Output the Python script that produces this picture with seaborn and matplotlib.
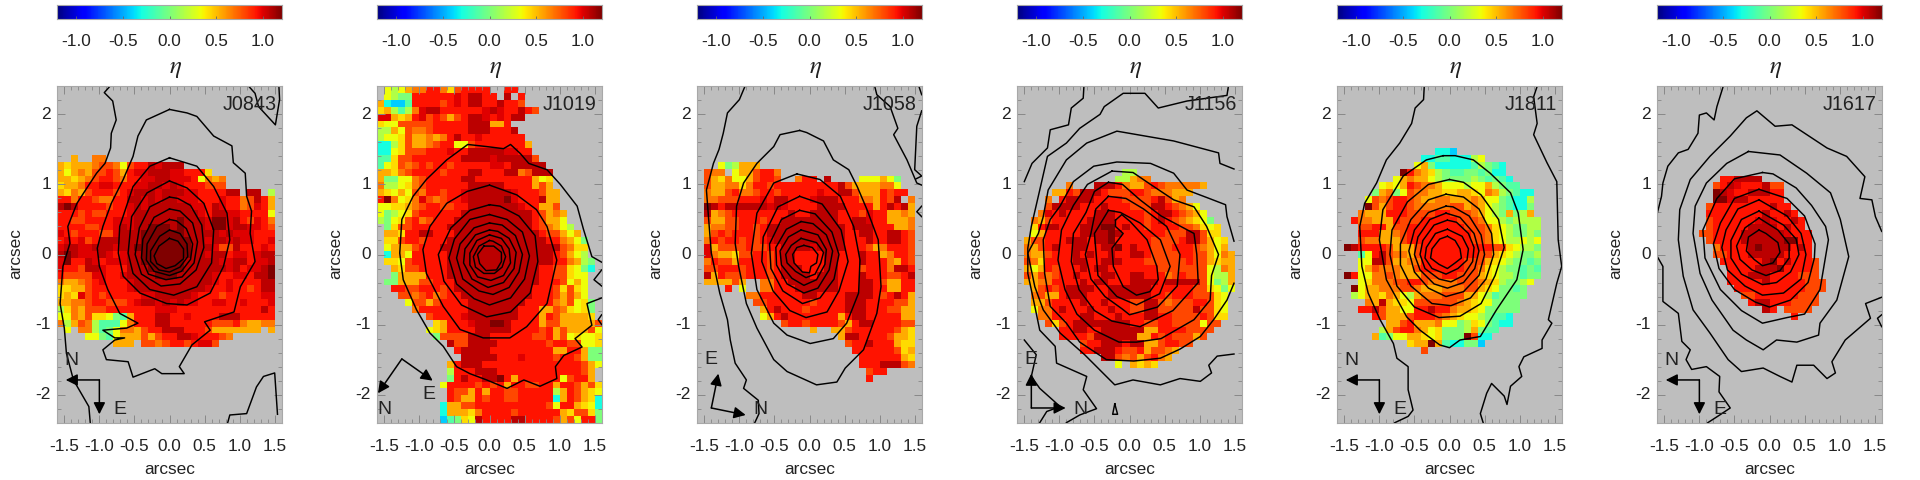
import numpy as np
import pandas as pd
import seaborn as sns
import matplotlib.pyplot as plt

plt.rcParams['font.family'] = ['Liberation Sans', 'DejaVu Sans']
plt.rcParams['mathtext.fontset'] = 'stix'

# eta value for each letter used in the cell rows below, '.' = no data
ETA_LEVELS = {'a': -0.42, 'b': -0.3, 'c': -0.12, 'd': 0.0, 'e': 0.15, 'f': 0.33, 'g': 0.43,
              'h': 0.55, 'i': 0.68, 'j': 0.8, 'k': 0.93, 'l': 1.0, 'm': 1.07, 'n': 1.2}

N_ROWS = 49
N_COLS = 32

# ---- J0843 ----
J0843_FIRST_ROW = 10
J0843_CELLS = [
    "..h..ii",
    "hghhhijjifjkkmlmmm",
    "hfhihjjkjhkllmmmllkkkg",
    "hhghijkkjikkllmmlllkfihi",
    "ghhikkllkkkllmmlmlkkkjjj",
    "hgihjkkkjklmmmlmmmllkkkkmm.mm.e",
    "kkikkjiikkmmlmlmmlllkkklkkijmkh",
    "mnmkkkkjkklmlmmmmmmllkmlkkijlkh",
    "kkkjkjjkkklmmmmmmmmmlkmmllkkkkf",
    "kkjjkkkklllmmmmmmnmmmlnnlmkjlki",
    "kkkkjjkklmlmmnnnmnmmmlnnlmmllkj",
    "lkjkkkjjlmmmnnnnnnmmmmmlmlllkkk",
    "klkljkmmmmmmnnnnnnnmmlmmlmllkkl",
    "lmmllmmmlmmnnnnnnnnmmmljjmkkklk",
    "mnmlllmlklmmnnnnnnnmmlmmkllklmm",
    "lnkkmlklllmmnnnnnnmmmmmllmmkllm",
    "lkkjmmlkkkmmmnnnnnmmmmmmlmkllmn",
    "kjjjjllkklmmmmnnnmmmmmlkkllkmmn",
    "ihhijklkkklmmmmmmmmmmmlklkkkkmm",
    "gghhjkkkkklmmmmmmmmmmlkklkkjkmm",
    "ghgljkjkkkkkllmmmmmlkkkjkkkkkll",
    "hhiijkkjjjklmmlmlmllkkllkklkkkl",
    "egihjjjkkkkkkklllkkkkkkkkkkkkmk",
    "ffihjggfdchkkkmmkklkkkkmmmkkkkk",
    "iehjiecccfikkkmmkkkkkkjjjkihhii",
    ".f.iiecdfiihjkkmmmkkkjhhhhhhh.h",
    "....ffdcfhhhjhjkkmmlkkkji",
    "........hhh.jjijkkjkllj",
]
J0843_CONTOURS = [
    [(-.85, 2.4), (-.93, 2.31), (-.81, 2.19), (-.76, 1.92), (-.83, 1.73), (-.84, 1.52), (-.92, 1.3), (-1.04, 1.16),
     (-1.21, .9), (-1.32, .73), (-1.45, .4), (-1.42, .16), (-1.52, -.17), (-1.56, -.7), (-1.5, -1.05), (-1.47, -1.41),
     (-1.37, -1.79), (-1.15, -2.17), (-1.13, -2.4)],
    [(0, 2.07), (-.33, 1.92), (-.45, 1.69), (-.52, 1.4), (-.66, 1.07), (-.83, .73), (-.95, .4), (-1.03, .09), (-1.0, -.17),
     (-.88, -.5), (-.71, -.84), (-.45, -.98), (-.61, -1.05), (-.95, -1.08), (-.78, -1.19), (-.64, -1.19), (-.78, -1.22),
     (-.95, -1.36), (-.9, -1.5), (-.59, -1.53), (-.52, -1.75), (-.21, -1.63), (-.11, -1.7), (.21, -1.7), (.14, -1.6),
     (.32, -1.29), (.58, -1.08), (.5, -.96), (.92, -.82), (1.01, -.46), (1.22, -.1), (1.15, .3), (1.17, .62), (1.1, .83),
     (1.08, 1.16), (.91, 1.31), (.89, 1.55), (.63, 1.69), (.39, 1.97), (.25, 2.02), (0, 2.07)],
    [(0, 1.38), (-.28, 1.26), (-.52, .97), (-.71, .4), (-.73, .02), (-.66, -.31), (-.42, -.55), (-.04, -.7), (.25, -.72),
     (.58, -.55), (.77, -.17), (.86, .21), (.82, .59), (.63, .97), (.39, 1.26), (0, 1.38)],
    [(0, 1.05), (-.32, .88), (-.54, .54), (-.59, .02), (-.52, -.27), (-.28, -.5), (.06, -.58), (.39, -.46), (.6, -.12),
     (.63, .35), (.49, .73), (.25, .95), (0, 1.05)],
    [(0, .82), (-.28, .68), (-.43, .38), (-.49, 0), (-.4, -.28), (-.12, -.45), (.15, -.42), (.38, -.22), (.49, .1),
     (.46, .42), (.3, .7), (.12, .8), (0, .82)],
    [(0, .65), (-.22, .53), (-.38, .22), (-.4, -.05), (-.3, -.28), (-.05, -.36), (.18, -.32), (.35, -.12), (.4, .18),
     (.33, .45), (.15, .62), (0, .65)],
    [(0, .5), (-.18, .4), (-.32, .15), (-.33, -.08), (-.22, -.24), (0, -.3), (.17, -.24), (.3, -.07), (.33, .15),
     (.24, .37), (.1, .48), (0, .5)],
    [(0, .35), (-.14, .26), (-.27, .05), (-.27, -.1), (-.15, -.22), (0, -.25), (.15, -.18), (.26, -.03), (.25, .15),
     (.15, .3), (0, .35)],
    [(0, .23), (-.15, .12), (-.22, -.02), (-.18, -.13), (-.05, -.2), (.08, -.16), (.2, -.06), (.2, .08), (.12, .19), (0, .23)],
    [(.83, -2.4), (.86, -2.29), (1.1, -2.27), (1.24, -1.89), (1.34, -1.74), (1.5, -1.69), (1.54, -2.28)],
    [(1.13, 2.4), (1.22, 2.3), (1.27, 2.11), (1.51, 1.85), (1.57, 2.21), (1.56, 2.4)],
]

# ---- J1019 ----
J1019_FIRST_ROW = 0
J1019_CELLS = [
    ".fefhiikkigjkkkk..kk",
    ".feddkkkkkklkmmkk.m.k",
    "hbaackkkkjklkmmkkmkkj",
    "gheceilmmkkkkkklmlkkmkj",
    "llhghkljkjhjkmmlklkmm",
    "gffjjjjjkkkkkmmmhhk",
    "eehfjiijkkkkkmmmkkkm",
    "effgjhhihikmkklkkkkkk",
    "bbegjhhijkkffjkkkkkkkh",
    "bbfgjjjkkklkkmmmmmllkk",
    "ccgjjkkkkkkkmmmmlmmmmmj",
    "cfgjijkjkkjkkkkkllkmmmmm",
    "hhgijkkkkjkkkmmkkkmmijmmm",
    "hddffijkkkkkmmkkkkkkkkhfg",
    "ieefgijkkkkkkmmmmmkkkkhjh",
    "hgfhfjikkjkklmmmmmmlkkkjhh",
    "knifgiljijkklmmmmmnlkkkmhh",
    "ffgghijkkjjkkmmmmmmmlkkhhj",
    "fdefgjkkkkkkmmmmmmmmmmkjhih",
    "edfgjkijkkkmmmmmmmmmmmkjhhf",
    ".dgjjkkkkkmmmmmmmmmmmmkjihfe",
    ".hhgkkmmkkkmmmmmmmmmmmmkjjhfh",
    ".ggjkkjkkkmmmmmmmmmmmmmmkkihfd",
    ".fhhhjkkkmmmmmmmmmmmmmmmmmjigg",
    ".bhhfkkkkkmmmmmmmmmmmmmmmkjhfe",
    ".ggfjkkkkkmmmmmmmmmmmmmmmkkihed",
    "..hgjjkkkkmmmmmmmmmmmmmkkjjgfdb",
    "..dhhhhkkkmmmmmmmmmmmmmkkjjgff",
    ".ddhhhjjkkkmmmmmmmmmmmmkkkjfhf",
    "..kkjjkkkjkmmmmmmmmmmmkkkjgjgf",
    "...jjijkijkkmmmmmmmmmmkkkjhjhf",
    "....fjjhjkkkkmmmmmmmmkkkkihjfgd",
    ".....ikkkkkkkmmmmmmmkkkhhjigfgd",
    ".......jkkkklmmmmmmmkkkhkjhhhhg",
    "........ghkkklmmnnmkkkkhjjhhhhhj",
    ".......fghkkkkmmmmmkkkkjkhjhhhjf",
    "........djjjjmmmkkkkkkjjkhjfgffg",
    "..........mjjmmmmkkkkkkkjkkjjffg",
    "...........kmmmmkkkkkkkkkhhkkhdd",
    "............mmmmmkkklkkkkjkkjhdd",
    "..........hkmmmkkkkkkkkkkkkkkjhf",
    "..........ekkkmmmkkkkkkkkkkkkjh.",
    "..........dkmkkmmnkhkkkkkkfjkkh.",
    ".........fkkkkjkjkhkkjjkkhkkjhjg",
    "..........kjjhkhkkjjkkkkkehkjhgf",
    "..........kjhhkjkkjjkkkkkbhkjhgb",
    ".........bhhjjkkkkkkkkkkjfkkhgfb",
    ".........bhhhgikkkkjkkkkkkhgjjgd",
    ".........acdgfmkkkkmmkkkkjhjfkkd",
]
J1019_CONTOURS = [
    [(1.6, -.11), (1.46, -.03), (1.34, .36), (1.25, .69), (1.01, 1.0), (.82, 1.21), (.56, 1.3), (.44, 1.44), (.3, 1.57),
     (.2, 1.51), (-.04, 1.54), (-.31, 1.57), (-.61, 1.35), (-.9, 1.07), (-1.09, .83), (-1.25, .5), (-1.28, .02), (-1.23, -.36),
     (-1.04, -.79), (-.85, -1.12), (-.66, -1.31), (-.47, -1.6), (-.28, -1.7), (-.04, -1.79), (.25, -1.91), (.49, -1.79),
     (.72, -1.88), (.96, -1.77), (.94, -1.6), (1.06, -1.44), (1.32, -1.32), (1.22, -1.2), (1.46, -1.01), (1.39, -.7), (1.6, -.62)],
    [(1.6, -.22), (1.49, -.36), (1.6, -.45)],
    [(1.6, -.86), (1.55, -.93), (1.6, -1.0)],
    [(0, .99), (-.32, .9), (-.61, .73), (-.85, .4), (-.95, .07), (-.9, -.27), (-.66, -.74), (-.42, -1.07), (-.09, -1.19),
     (.29, -1.19), (.53, -1.03), (.82, -.7), (.96, -.08), (.82, .4), (.67, .64), (.39, .85), (0, .99)],
    [(0, .71), (-.28, .63), (-.55, .38), (-.73, 0), (-.65, -.38), (-.4, -.72), (-.04, -.89), (.3, -.82), (.58, -.55),
     (.69, -.1), (.65, .27), (.42, .55), (.15, .69), (0, .71)],
    [(0, .57), (-.28, .5), (-.5, .22), (-.58, -.05), (-.47, -.42), (-.22, -.63), (0, -.72), (.3, -.62), (.5, -.35),
     (.57, -.02), (.47, .32), (.25, .5), (0, .57)],
    [(0, .45), (-.22, .38), (-.42, .15), (-.47, -.05), (-.38, -.35), (-.15, -.52), (.05, -.57), (.28, -.47), (.42, -.25),
     (.47, 0), (.37, .27), (.18, .42), (0, .45)],
    [(0, .35), (-.2, .28), (-.35, .08), (-.37, -.12), (-.25, -.35), (-.02, -.47), (.2, -.4), (.35, -.2), (.38, .03),
     (.28, .23), (.12, .33), (0, .35)],
    [(0, .28), (-.18, .2), (-.28, .02), (-.28, -.15), (-.17, -.32), (.02, -.37), (.2, -.3), (.3, -.12), (.28, .08),
     (.17, .23), (0, .28)],
    [(0, .2), (-.15, .12), (-.23, -.03), (-.2, -.18), (-.08, -.27), (.07, -.27), (.18, -.18), (.23, -.03), (.17, .12),
     (.05, .19), (0, .2)],
    [(-.08, .12), (.06, .12), (.17, .03), (.17, -.1), (.1, -.22), (-.05, -.23), (-.14, -.13), (-.17, 0), (-.08, .12)],
]

# ---- J1058 ----
J1058_FIRST_ROW = 11
J1058_CELLS = [
    "...fdehhh",
    ".jii.fhhjkki",
    ".jhgiffhjkkj..ikk.m....fffhfd",
    ".jhhiigikkjkkkkkkkkkmjhhhhiif",
    ".ihhjkiijkkjkkkkklkkmmjhhhkjkk",
    ".iijjjkkklkmmkkklmmmkkkiihkjm.i",
    ".nmkmmmmmmlmlkkkkmmmmkkkkhkmkmh",
    ".mhijkkkkkkkkmkkmmmmkkkjlkkhhih",
    ".jhhjjkkkjkkmmmmmmmmkkmmlkkhhhi",
    ".hiijjkkjkmmmmmmmmmmmkmmmkkkhhi",
    ".hjkjkkkjkmmmmmmmmmmmkkmmkkmmkj",
    ".ikjkkjkjklmmmmmmmmmmkkkmkkmmkj",
    ".lhjjjjkjjkkmmmmlmmmmkkkjhikkkj",
    ".lihhgjjkkjkmmkkkkmmkkkmkkhikkj",
    ".ikjjhkkkkjkmmkkkkmmkkkmkkkihkj",
    ".jjkkkjkkkjkmmmkkkmmkkkjkkkimmk",
    ".mhkjjjkkkjkmmmmkmmmkkkmkkkjjkm",
    ".hhhhjh..iikkmmmmmmmkkkmmkjhhkk",
    "....k.f..iikkkmmmmmmkkkmmkkhhkk",
    ".......iikkkkkkmmkkkkmmmmkjkmkh",
    "........jjkkkkkkjkkkkmmmkkkkjjh",
    ".........hkmkkkjkkkkkmmmkkkjjhh",
    ".........fhkmkkkkkkkhkmmkkkkkhh",
    "............jkkjkkkkjhkmmkkkkjj",
    "................h..hhjkkkkkkjhg",
    "....................hmmkkkkjhhg",
    ".....................jkkmkkkhgg",
    "......................kkkkkkjgh",
    ".......................kkkkkkhg",
    ".......................kkkmmmji",
    "........................jkk",
    "........................k",
]
J1058_CONTOURS = [
    [(-.92, 2.4), (-1.0, 2.21), (-1.17, 2.02), (-1.23, 1.73), (-1.29, 1.5), (-1.37, 1.3), (-1.47, .92), (-1.43, .4),
     (-1.4, .02), (-1.28, -.55), (-1.17, -.93), (-1.13, -1.22), (-1.06, -1.55), (-.9, -1.79), (-.94, -1.91), (-.73, -2.08),
     (-.72, -2.27), (-.78, -2.4)],
    [(.93, 2.4), (.96, 2.28), (1.15, 2.11), (1.26, 1.8), (1.2, 1.71), (1.39, 1.35), (1.53, 1.02), (1.6, .99)],
    [(1.56, 2.4), (1.6, 2.28)],
    [(1.6, 2.05), (1.53, 1.83), (1.5, 1.21), (1.6, 1.12), (1.52, 1.08)],
    [(1.6, .69), (1.53, .61), (1.6, .54)],
    [(-.14, 1.77), (-.42, 1.71), (-.51, 1.54), (-.75, 1.3), (-.94, 1.02), (-1.04, .69), (-1.06, .16), (-1.01, -.17), (-.9, -.7),
     (-.75, -1.05), (-.51, -1.5), (-.32, -1.67), (.1, -1.86), (.39, -1.82), (.51, -1.62), (.77, -1.36), (.96, -.84), (1.02, -.46),
     (.98, .21), (.82, .64), (.68, .97), (.56, 1.21), (.34, 1.35), (.2, 1.62), (-.04, 1.74), (-.14, 1.77)],
    [(-.18, 1.15), (-.51, 1.02), (-.75, .59), (-.83, .02), (-.75, -.5), (-.51, -.98), (-.32, -1.15), (.01, -1.27), (.34, -1.2),
     (.53, -.98), (.7, -.55), (.72, -.08), (.63, .4), (.44, .83), (.15, 1.07), (-.18, 1.15)],
    [(-.14, .83), (-.45, .68), (-.66, .25), (-.68, -.1), (-.52, -.52), (-.28, -.8), (-.05, -.9), (.25, -.82), (.42, -.52),
     (.55, -.1), (.45, .35), (.18, .72), (-.14, .83)],
    [(-.14, .63), (-.4, .5), (-.57, .15), (-.55, -.2), (-.38, -.52), (-.1, -.7), (.15, -.62), (.35, -.35), (.42, 0), (.32, .32),
     (.08, .58), (-.14, .63)],
    [(-.12, .47), (-.33, .36), (-.48, .1), (-.47, -.15), (-.32, -.42), (-.08, -.55), (.12, -.48), (.28, -.22), (.33, .05),
     (.24, .28), (.05, .44), (-.12, .47)],
    [(-.12, .35), (-.3, .25), (-.42, .05), (-.4, -.15), (-.25, -.34), (-.08, -.44), (.1, -.36), (.22, -.14), (.24, .07),
     (.12, .28), (-.12, .35)],
    [(-.12, .23), (-.26, .13), (-.34, 0), (-.32, -.12), (-.2, -.24), (-.05, -.33), (.08, -.28), (.16, -.12), (.2, .03),
     (.1, .17), (-.12, .23)],
    [(-.08, .13), (.04, .1), (.12, 0), (.1, -.12), (.02, -.17), (0, -.26), (-.1, -.25), (-.22, -.12), (-.24, 0), (-.18, .1),
     (-.08, .13)],
]

# ---- J1156 ----
J1156_FIRST_ROW = 12
J1156_CELLS = [
    "...............ee",
    "..............eehii",
    ".......i...mmmkihhjkjiiiiih",
    ".....hhkjmmmkjjjkkjiiihhh",
    "....i.kmmmmkkkkjjjjkmjhi",
    "....jmmmmkkkmkkkjjjmmkjihf",
    "...ilkmkkkkmmmkkkkjkmmkjihf",
    "..ihjkkkkkmmmmkkkkjkmkjihgfd",
    "..gkmmkkkmmmnnkmkkjkkkkjjigfg",
    "..fhkkkkkmmmmnmkkkkkkjjjmmjgg",
    ".hjjkkkmmmkmmnkkkkkjjjjkmmjhfg",
    ".ihjkmkkmmkkmmnkmkkjjjkkkjihfh",
    ".ihhjkkkmkmkkmkkmmkjjjjkkjjhfih",
    ".jigkkkkmmkkmmmkkkjjjjjjkjjhghh",
    ".hfhkjkkkmkmmkkkkkkkjjjjjjjfeih",
    ".jhjijkkmkkkmmkkmmkkkijkjjjfeeh",
    ".hhiikkkkmkmmkkkmmmmkmmmmmjfdeh",
    "..hjkjkmmmmkkmmmmmmkkkkkkjjgfdf",
    "..ijhhkmmmkkkmmmmmmkkjkkkjjjgf",
    "..hhjkkkkmkkmkkkjjmmjijjjkkjgf",
    "..fiikmkkkmkkmkkjjmmjjjjjmjjgf",
    "...iikkkkmmkkkmkkkmmkkjjjjkjgg",
    "....jgjkmmmmmmmmkkjjkkjjjjfjj",
    "......kkmmkkmmmmmmhhkkkkjjjj",
    "......kkkkjmmmmmmhhkjkjjjhj",
    ".........jkkmmmkmmhhjkkjj",
    ".........kkmmmkjjkhjjih",
    "............mmjijhjkih",
    "..............f.hghg",
]
J1156_CONTOURS = [
    [(-.65, 2.4), (-.66, 2.23), (-.83, 2.09), (-.87, 1.85), (-1.13, 1.78), (-1.17, 1.52), (-1.39, 1.3), (-1.5, 1.04)],
    [(-1.5, -1.22), (-1.33, -1.43), (-1.4, -1.74), (-1.28, -1.91), (-1.09, -2.08), (-.99, -2.17), (-1.18, -2.24), (-1.28, -2.4)],
    [(1.41, 2.4), (1.39, 2.27), (.82, 2.19), (.41, 2.09), (.22, 2.3), (-.09, 2.3), (-.36, 2.11), (-.42, 2.0), (-.71, 1.8),
     (-.9, 1.59), (-1.17, 1.4), (-1.28, .92), (-1.4, .4), (-1.45, .09), (-1.45, -.27), (-1.35, -.74), (-1.28, -1.08), (-1.06, -1.31),
     (-1.04, -1.55), (-.61, -1.74), (-.66, -1.93), (-.47, -2.2), (-.71, -2.29), (-.9, -2.4)],
    [(1.49, 1.22), (1.29, 1.3), (1.27, 1.45), (.63, 1.62), (-.18, 1.76), (-.61, 1.59), (-.9, 1.35), (-1.16, .92), (-1.23, .54),
     (-1.3, .3), (-1.45, .02), (-1.35, -.46), (-1.23, -.79), (-.99, -1.12), (-.64, -1.43), (-.21, -1.86), (.05, -1.79), (.44, -1.86),
     (.72, -1.77), (1.01, -1.81), (1.17, -1.69), (1.13, -1.58), (1.25, -1.45), (1.49, -1.42)],
    [(1.49, .19), (1.39, .54), (1.37, .71), (1.11, .81), (.82, .92), (.63, 1.16), (.3, 1.3), (-.18, 1.32), (-.51, 1.26), (-.8, 1.04),
     (-.99, .69), (-1.13, .5), (-1.23, .21), (-1.21, -.27), (-1.13, -.74), (-.9, -.98), (-.71, -1.25), (-.33, -1.5), (.06, -1.52),
     (.44, -1.48), (.72, -1.35), (1.01, -1.17), (1.2, -.93), (1.39, -.65), (1.49, -.41)],
    [(-.25, 1.19), (-.6, 1.0), (-.8, .7), (-.97, .35), (-1.02, -.08), (-.92, -.5), (-.75, -.85), (-.5, -1.08), (-.15, -1.25),
     (.1, -1.25), (.45, -1.2), (.92, -.93), (1.15, -.65), (1.17, -.3), (1.27, 0), (1.1, .4), (.92, .68), (.63, .78), (.3, 1.0),
     (.05, 1.17), (-.25, 1.19)],
    [(-.3, 1.03), (-.5, .9), (-.62, .6), (-.8, .3), (-.83, -.1), (-.72, -.5), (-.5, -.8), (-.25, -.95), (.15, -1.03), (.62, -.8),
     (.98, -.4), (.96, 0), (.92, .3), (.45, .55), (.15, .78), (-.1, 1.0), (-.3, 1.03)],
    [(-.3, .83), (-.48, .65), (-.55, .3), (-.63, 0), (-.55, -.35), (-.35, -.6), (-.1, -.78), (0, -.86), (.4, -.75), (.68, -.45),
     (.72, 0), (.53, .4), (.2, .65), (-.05, .8), (-.3, .83)],
    [(-.3, .63), (-.5, .3), (-.45, -.3), (-.18, -.6), (.1, -.72), (.43, -.56), (.58, -.17), (.44, .21), (.15, .45), (-.13, .6), (-.3, .63)],
    [(-.2, .49), (-.11, .57), (.01, .47), (.25, .21), (.39, -.17), (.41, -.36), (.29, -.53), (.1, -.58), (-.09, -.46), (-.23, -.17),
     (-.25, .09), (-.09, .3), (-.2, .4), (-.2, .49)],
    [(-.21, -2.13), (-.24, -2.28), (-.17, -2.28), (-.21, -2.13)],
]

# ---- J1811 ----
J1811_FIRST_ROW = 9
J1811_CELLS = [
    "..............bba",
    "............bbccbbbef",
    "...........fhdbbbbbcedcb",
    ".........nkihgedccddcdbb",
    "........fhihhfeddddedcdcb",
    "......fgfhkjiihfffeffhedcc",
    ".....dhidfjiihhgghhgfihedcbb",
    "....fjijkkjihhiihhhihffdcbbe",
    "....njhjkkjiiiiijjhihfedcbbd",
    "...ihhhkkkjjjjkkjjjihfedhdeh",
    "..kiihhhkjjjkkkkkjjjiffedeeee",
    "...jjkkhjjkkkkkkkkjjjigfeddee",
    "...kkkhhijkkkkkkkkkjjigfedded",
    "...jiihhhjkkkkkkkkkjjigfeefef",
    ".nmkkkkjhhhjkkkkkkkkkkjjgfeed",
    "...cfkmjiihjkkkkkkkkjjhgfedde",
    "...ffmmjhhiikkkkkkjjjhgfeddcd",
    "...fhjiiihhjkkkkkkjjigfeddcdc",
    ".nkffiijihhhjjjkkjjjhgfeedcdd",
    "...fgiiijjkkjiiiijjjihgeddef",
    "..nfhhiiijjihhhiiijjhgfddcd",
    "..efhhgihfehiiijjjhhfecdddd",
    "....ihmhggfjjjjjjihgffdddd",
    "...kkmjhhffkkmkkihhgfddddd",
    ".....kjhhhjkkkjihgffedccb",
    ".......hhjkhhhiffdegfdcbb",
    "......ehjkkihfgdddehdcc",
    ".....hcdffhhgfgdddnjbb",
    "..........ghhnhcbbdda",
    "............j",
]
J1811_CONTOURS = [
    [(-.36, 2.4), (-.37, 2.21), (-.49, 2.09), (-.54, 1.87), (-.71, 1.59), (-.9, 1.35), (-1.04, 1.02), (-1.21, .73), (-1.28, .4),
     (-1.25, -.17), (-1.16, -.55), (-.99, -.93), (-.8, -1.27), (-.75, -1.48), (-.59, -1.6), (-.59, -1.93), (-.52, -2.22),
     (-.59, -2.31), (-.78, -2.4)],
    [(1.25, 2.4), (1.2, 2.25), (1.25, 1.87), (1.2, 1.71), (1.39, 1.31), (1.53, 1.04), (1.55, .21), (1.6, -.17), (1.53, -.41),
     (1.41, -.93), (1.46, -.98), (1.32, -1.22), (1.32, -1.34), (1.06, -1.46), (.99, -1.6), (1.03, -1.74), (.87, -1.88), (.82, -2.14),
     (.78, -2.02), (.6, -1.84), (.53, -1.98), (.44, -2.27), (.48, -2.4)],
    [(-.09, 1.41), (-.33, 1.35), (-.66, 1.12), (-.95, .64), (-1.0, .21), (-.9, -.36), (-.61, -.89), (-.42, -1.08), (-.14, -1.29),
     (0, -1.33), (.15, -1.22), (.44, -1.17), (.67, -.79), (.96, -.36), (1.05, .07), (.98, .59), (.87, .88), (.58, 1.16), (.34, 1.35),
     (.08, 1.41), (-.09, 1.41)],
    [(0, 1.07), (-.3, 1.0), (-.6, .75), (-.82, .35), (-.85, 0), (-.75, -.45), (-.5, -.75), (-.15, -.9), (.15, -.88), (.45, -.7),
     (.65, -.3), (.78, .1), (.7, .5), (.45, .85), (.2, 1.03), (0, 1.07)],
    [(-.05, .86), (-.3, .78), (-.55, .5), (-.7, .15), (-.7, -.15), (-.55, -.45), (-.25, -.7), (.02, -.73), (.3, -.62), (.52, -.35),
     (.63, 0), (.6, .3), (.42, .65), (.2, .82), (-.05, .86)],
    [(-.05, .69), (-.3, .6), (-.5, .35), (-.58, .05), (-.5, -.25), (-.3, -.48), (-.05, -.6), (.2, -.53), (.42, -.3), (.5, 0),
     (.45, .28), (.28, .55), (.05, .68), (-.05, .69)],
    [(-.05, .59), (-.28, .5), (-.45, .25), (-.5, 0), (-.42, -.22), (-.22, -.42), (-.03, -.48), (.2, -.4), (.36, -.2), (.42, .05),
     (.35, .3), (.15, .53), (-.05, .59)],
    [(-.03, .49), (-.22, .42), (-.38, .2), (-.42, 0), (-.35, -.2), (-.15, -.35), (.02, -.39), (.2, -.3), (.33, -.1), (.35, .1),
     (.27, .3), (.1, .46), (-.03, .49)],
    [(-.03, .36), (-.2, .3), (-.33, .1), (-.35, -.05), (-.25, -.2), (-.05, -.28), (.12, -.2), (.25, -.08), (.27, .08), (.18, .26),
     (-.03, .36)],
    [(-.03, .26), (-.14, .22), (-.25, .08), (-.27, -.05), (-.15, -.14), (-.03, -.2), (.08, -.12), (.17, -.05), (.15, .08), (.08, .2),
     (-.03, .26)],
]

# ---- J1617 ----
J1617_FIRST_ROW = 13
J1617_CELLS = [
    ".........kkmmmm",
    "........jkmlkkkmjj",
    "........nmlkkmmmkk",
    "........nnlmmkkkkk",
    ".......jkkkkkkkkmkk",
    ".......kkkkkkkkmkkmk",
    ".......jkkkkkklmlkkmk",
    ".......jkkkkkmmmmkmkk",
    "......jjkkkkmmmmmmlkkk",
    ".......jkkkkmmmmmmnnkk",
    "........ikkkkmnmmmmkmk",
    "........jjkkkmmmmmkkkk",
    ".........kkkkkkmnkmkkkj",
    "..........kkkkmmmnkkkkj",
    "..........kkkmmmkkkkjjj",
    "..........kkkkkmkkkkkjjj",
    "...........kkkkkkkkkkjjj",
    "............jjkkkkkkjjj",
    ".............kmmkkkjjjj",
    "...............mk.jjjj",
    "...................k",
]
J1617_CONTOURS = [
    [(-.66, 2.4), (-.75, 2.11), (-.79, 1.92), (-.9, 2.02), (-1.0, 1.99), (-1.02, 1.73), (-1.16, 1.5), (-1.3, 1.45), (-1.45, 1.26),
     (-1.52, 1.02), (-1.54, .83), (-1.6, .59)],
    [(-1.6, -.03), (-1.52, -.17), (-1.52, -.67), (-1.3, -.84), (-1.25, -1.24), (-1.13, -1.36), (-1.19, -1.5), (-1.11, -1.64),
     (-.9, -1.6), (-.71, -1.74), (-.72, -1.96), (-.56, -2.19), (-.71, -2.29), (-.88, -2.4)],
    [(1.6, .33), (1.51, .54), (1.46, .78), (1.29, .8), (1.36, 1.11), (1.1, 1.4), (.82, 1.52), (.32, 1.85), (.08, 1.83), (-.18, 2.05),
     (-.33, 1.95), (-.56, 1.69), (-.85, 1.4), (-1.13, 1.07), (-1.28, .64), (-1.3, .21), (-1.23, -.31), (-1.09, -.79), (-.85, -1.12),
     (-.59, -1.5), (-.4, -1.67), (-.09, -1.62), (.15, -1.74), (.32, -1.82), (.39, -1.58), (.63, -1.58), (.82, -1.77), (.94, -1.69),
     (.89, -1.53), (1.08, -1.22), (1.44, -.91), (1.37, -.7), (1.6, -.61)],
    [(1.6, -.86), (1.54, -.91), (1.6, -1.03)],
    [(-.3, 1.47), (-.61, 1.3), (-.9, 1.02), (-1.06, .69), (-1.09, .3), (-.99, -.27), (-.82, -.65), (-.52, -1.08), (-.33, -1.22),
     (-.09, -1.36), (.1, -1.22), (.39, -1.25), (.7, -1.15), (.72, -.98), (.96, -.65), (1.13, -.03), (1.01, .5), (.87, .88), (.53, 1.16),
     (.15, 1.42), (-.3, 1.47)],
    [(-.1, 1.17), (-.5, 1.08), (-.75, .8), (-.95, .35), (-.92, -.05), (-.7, -.5), (-.4, -.8), (-.1, -.98), (.25, -.9), (.5, -.85),
     (.72, -.5), (.84, .21), (.8, .4), (.6, .7), (.38, .95), (.05, 1.15), (-.1, 1.17)],
    [(-.15, .93), (-.5, .8), (-.7, .45), (-.8, .15), (-.72, -.2), (-.5, -.5), (-.2, -.68), (0, -.75), (.3, -.65), (.55, -.4),
     (.64, -.05), (.65, .15), (.5, .55), (.25, .8), (-.15, .93)],
    [(-.15, .78), (-.45, .65), (-.62, .35), (-.68, .1), (-.6, -.22), (-.35, -.45), (-.1, -.58), (.2, -.55), (.45, -.35), (.52, 0),
     (.45, .3), (.25, .55), (-.15, .78)],
    [(-.15, .62), (-.4, .5), (-.55, .2), (-.55, -.05), (-.4, -.28), (-.1, -.43), (.1, -.4), (.3, -.25), (.42, 0), (.38, .22), (.2, .42),
     (-.15, .62)],
    [(-.15, .52), (-.35, .38), (-.47, .12), (-.42, -.07), (-.25, -.22), (-.05, -.3), (.15, -.23), (.28, -.05), (.28, .15), (.12, .35),
     (-.15, .52)],
    [(-.15, .35), (-.3, .25), (-.33, .05), (-.22, -.07), (-.1, -.16), (.05, -.12), (.15, .03), (.12, .17), (-.05, .3), (-.15, .35)],
]

# compass arrows: corner, first tip, second tip, and where each letter goes
COMPASS_PLAIN = ((-1.0, -1.79), ('N', -1.48, -1.79, -1.40, -1.51), ('E', -1.0, -2.28, -.71, -2.21))
COMPASS_J1019 = ((-1.25, -1.49), ('N', -1.59, -1.98, -1.50, -2.21), ('E', -.81, -1.80, -.86, -2.0))
COMPASS_J1058 = ((-1.40, -2.19), ('E', -1.30, -1.70, -1.41, -1.50), ('N', -.91, -2.29, -.70, -2.21))
COMPASS_J1156 = ((-1.40, -2.19), ('E', -1.40, -1.70, -1.41, -1.50), ('N', -.91, -2.19, -.70, -2.21))

panels = [
    ("J0843", J0843_FIRST_ROW, J0843_CELLS, J0843_CONTOURS, COMPASS_PLAIN),
    ("J1019", J1019_FIRST_ROW, J1019_CELLS, J1019_CONTOURS, COMPASS_J1019),
    ("J1058", J1058_FIRST_ROW, J1058_CELLS, J1058_CONTOURS, COMPASS_J1058),
    ("J1156", J1156_FIRST_ROW, J1156_CELLS, J1156_CONTOURS, COMPASS_J1156),
    ("J1811", J1811_FIRST_ROW, J1811_CELLS, J1811_CONTOURS, COMPASS_PLAIN),
    ("J1617", J1617_FIRST_ROW, J1617_CELLS, J1617_CONTOURS, COMPASS_PLAIN),
]

VMIN, VMAX = -1.2, 1.2
W, H = 1920, 480
GREY = '#bebebe'
FRAME = '#a8a8a8'
TEXT = '#222222'
TICK_SIZE = 12.4


def cell_x(x):
    return (np.asarray(x) + 1.6) * 10


def cell_y(y):
    return (2.4 - np.asarray(y)) / 4.8 * N_ROWS


def build_grid(first_row, rows):
    grid = np.full((N_ROWS, N_COLS), np.nan)
    for r, row in enumerate(rows):
        for c, ch in enumerate(row[:N_COLS]):
            if ch != '.':
                grid[first_row + r, c] = ETA_LEVELS[ch]
    return pd.DataFrame(grid)


fig = plt.figure(figsize=(W / 100, H / 100), dpi=100)

for i, (name, first_row, rows, contours, compass) in enumerate(panels):
    left = 57.3 + 320 * i
    width = 224.4

    # colour bar on top
    cax = fig.add_axes([left / W, 1 - 19.3 / H, width / W, 14.6 / H])
    bar = pd.DataFrame([np.linspace(VMIN, VMAX, 256)])
    sns.heatmap(bar, ax=cax, cmap='jet', vmin=VMIN, vmax=VMAX, cbar=False,
                xticklabels=False, yticklabels=False)
    cax.set_xticks([(v - VMIN) / (VMAX - VMIN) * 256 for v in [-1, -.5, 0, .5, 1]])
    cax.set_xticklabels(['-1.0', '-0.5', '0.0', '0.5', '1.0'], fontsize=TICK_SIZE, color=TEXT)
    cax.tick_params(axis='x', direction='in', length=2, width=.6, color='#666666', pad=10.5)
    for s in cax.spines.values():
        s.set_visible(True)
        s.set_color(FRAME)
        s.set_linewidth(.8)
    fig.text((left + 118.4) / W, 1 - 68 / H, r'$\eta$', fontsize=18, color=TEXT, ha='center', va='center')

    # map
    ax = fig.add_axes([left / W, 1 - 422.7 / H, width / W, 336.4 / H])
    ax.set_facecolor(GREY)
    sns.heatmap(build_grid(first_row, rows), ax=ax, cmap='jet', vmin=VMIN, vmax=VMAX, cbar=False,
                xticklabels=False, yticklabels=False)
    for line in contours:
        xs, ys = zip(*line)
        sns.lineplot(x=cell_x(xs), y=cell_y(ys), ax=ax, color='black', lw=1.05, sort=False,
                     estimator=None, legend=False)
    ax.set_xlim(0, N_COLS)
    ax.set_ylim(N_ROWS, 0)

    x_major = [-1.5, -1.0, -0.5, 0.0, 0.5, 1.0, 1.5]
    y_major = [-2, -1, 0, 1, 2]
    ax.set_xticks(cell_x(x_major))
    ax.set_xticklabels(['%.1f' % v for v in x_major], fontsize=TICK_SIZE, color=TEXT)
    ax.set_yticks(cell_y(y_major))
    ax.set_yticklabels([str(v) for v in y_major], fontsize=TICK_SIZE, color=TEXT, rotation=0, va='center')
    ax.set_xticks(cell_x(np.arange(-16, 17) / 10), minor=True)
    ax.set_yticks(cell_y(np.arange(-24, 25, 2) / 10), minor=True)
    ax.tick_params(which='major', direction='in', length=6, width=.7, color='#888888', top=True, right=True)
    ax.tick_params(which='minor', direction='in', length=3, width=.6, color='#888888', top=True, right=True)
    ax.tick_params(axis='x', which='major', pad=11.5)
    ax.tick_params(axis='y', which='major', pad=4.5)
    for s in ax.spines.values():
        s.set_visible(True)
        s.set_color(FRAME)
        s.set_linewidth(.8)

    ax.set_xlabel('')
    ax.set_ylabel('')
    fig.text((left + 112.2) / W, 1 - 469 / H, 'arcsec', fontsize=TICK_SIZE, color=TEXT, ha='center', va='center')
    fig.text((15.7 + 320 * i) / W, 1 - 254 / H, 'arcsec', fontsize=TICK_SIZE, color=TEXT, ha='center', va='center',
             rotation=90)

    ax.text(cell_x(1.53), cell_y(2.14), name, fontsize=14.2, color=TEXT, ha='right', va='center')

    # compass
    (cx, cy), first, second = compass
    for letter, tx, ty, lx, ly in (first, second):
        ax.annotate('', xy=(cell_x(tx), cell_y(ty)), xytext=(cell_x(cx), cell_y(cy)),
                    arrowprops=dict(arrowstyle='-|>,head_length=0.5,head_width=0.25', color='black', lw=1.1,
                                    shrinkA=0, shrinkB=0, mutation_scale=14))
        ax.text(cell_x(lx), cell_y(ly), letter, fontsize=14, color=TEXT, ha='center', va='center')

fig.savefig('out.png', dpi=100)
